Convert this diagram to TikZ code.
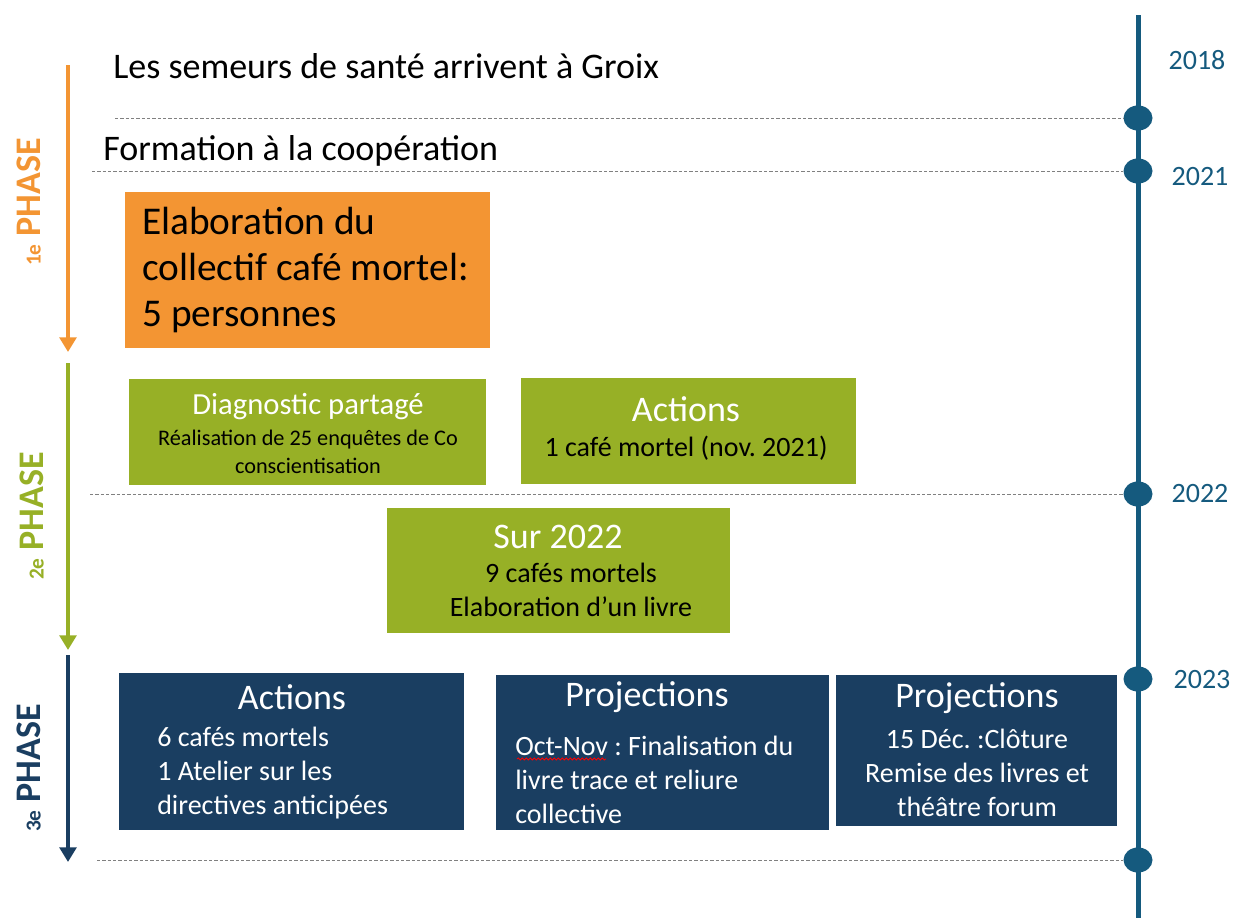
\documentclass[tikz,border=0pt]{standalone}
\usepackage{fontspec}
\setmainfont{Carlito}
\frenchspacing
\usetikzlibrary{arrows.meta,shapes.geometric,decorations.pathmorphing}
\definecolor{phaseorange}{HTML}{F39533}
\definecolor{phasegreen}{HTML}{97B026}
\definecolor{phasenavy}{HTML}{1A3E61}
\definecolor{timeblue}{HTML}{155A7E}
\tikzset{
    stagebox/.style={rectangle, inner sep=0pt, anchor=north west},
    boxtitle/.style={inner sep=0pt, text=white, font=\fontsize{27}{32}\selectfont},
    boxbody/.style={inner sep=0pt, align=center, font=\fontsize{21}{25.5}\selectfont},
    yearlabel/.style={inner sep=0pt, text=timeblue, font=\fontsize{21}{25}\selectfont},
    yeardot/.style={ellipse, fill=timeblue, inner sep=0pt, minimum width=21.75pt, minimum height=18.75pt},
    yearsep/.style={gray, dashed, line width=0.6pt, dash pattern=on 2.5pt off 1.5pt},
    phasearrow/.style={line width=3pt, -{Triangle[width=12.5pt,length=11pt]}},
    phaselabel/.style={inner sep=0pt, rotate=90, font=\fontsize{27}{30}\bfseries\selectfont}
}
\begin{document}
\begin{tikzpicture}[x=0.75pt, y=-0.75pt]
    \useasboundingbox (0,0) rectangle (1233,918);
    % draw the timeline on the right
    \coordinate (ttop) at (1138,15);
    \coordinate (tbot) at (1138,918);
    \draw[timeblue, line width=3.75pt] (ttop) -- (tbot);
    \foreach \name/\y in {d1/118, d2/171, d3/494, d4/679, d5/860}
        \node[yeardot] (\name) at (1138,\y) {};
    % years
    \node[yearlabel] (y2018) at (1197,60) {2018};
    \node[yearlabel] (y2021) at (1200,177) {2021};
    \node[yearlabel] (y2022) at (1200,494) {2022};
    \node[yearlabel] (y2023) at (1202,680) {2023};
    % dashed separators
    \coordinate (s1) at (115,118);
    \coordinate (s2) at (92,171);
    \coordinate (s3) at (90,494);
    \coordinate (s5) at (97,860);
    \draw[yearsep] (s1) -- (d1);
    \draw[yearsep] (s2) -- (d2);
    \draw[yearsep] (s3) -- (d3);
    \draw[yearsep] (s5) -- (d5);
    % first lines of text
    \node[inner sep=0pt, anchor=west, font=\fontsize{27}{32}\selectfont] (arrive) at (113,66) {Les semeurs de santé arrivent à Groix};
    \node[inner sep=0pt, anchor=west, font=\fontsize{27}{32}\selectfont] (formation) at (103,151) {Formation à la coopération};
    % 1e phase
    \node[stagebox, fill=phaseorange, minimum width=365*0.75pt, minimum height=156*0.75pt] (elab) at (125,192) {};
    \node[inner sep=0pt, anchor=west, align=left, font=\fontsize{29.5}{34.5}\selectfont] (elabtext) at (142,270) {Elaboration du\\collectif café mortel:\\5 personnes};
    % 2e phase
    \node[stagebox, fill=phasegreen, minimum width=357*0.75pt, minimum height=106*0.75pt] (diag) at (129,379) {};
    \node[boxtitle, font=\fontsize{23}{27}\selectfont] (diagtitle) at (308,407) {Diagnostic partagé};
    \node[boxbody, font=\fontsize{16.7}{21}\selectfont] (diagtext) at (308,452) {Réalisation de 25 enquêtes de Co\\conscientisation};
    \node[stagebox, fill=phasegreen, minimum width=335*0.75pt, minimum height=106*0.75pt] (act1) at (521,378) {};
    \node[boxtitle] (act1title) at (686,409) {Actions};
    \node[boxbody] (act1text) at (686,448) {1 café mortel (nov. 2021)};
    \node[stagebox, fill=phasegreen, minimum width=343*0.75pt, minimum height=125*0.75pt] (sur) at (387,508) {};
    \node[boxtitle] (surtitle) at (558,537) {Sur 2022};
    \node[boxbody] (surtext) at (571,590) {9 cafés mortels\\Elaboration d’un livre};
    % 3e phase
    \node[stagebox, fill=phasenavy, minimum width=345*0.75pt, minimum height=157*0.75pt] (act2) at (119,673) {};
    \node[boxtitle] (act2title) at (292,697) {Actions};
    \node[boxbody, text=white, anchor=west, align=left] (act2text) at (157,773) {6 cafés mortels\\1 Atelier sur les\\directives anticipées};
    \node[stagebox, fill=phasenavy, minimum width=333*0.75pt, minimum height=155*0.75pt] (proj1) at (496,675) {};
    \node[boxtitle] (proj1title) at (647,697) {Projections};
    \node[boxbody, text=white, anchor=west, align=left] (proj1text) at (515,780) {Oct-Nov : Finalisation du\\livre trace et reliure\\collective};
    \draw[red, line width=0.6pt, decorate, decoration={snake, amplitude=0.8pt, segment length=3pt}] (517,759) -- (606,759);
    \node[stagebox, fill=phasenavy, minimum width=281*0.75pt, minimum height=151*0.75pt] (proj2) at (836,675) {};
    \node[boxtitle] (proj2title) at (977,698) {Projections};
    \node[boxbody, text=white] (proj2text) at (977,773) {15 Déc. :Clôture\\Remise des livres et\\théâtre forum};
    % phase arrows
    \coordinate (p1a) at (68,65);
    \coordinate (p1b) at (68,352);
    \coordinate (p2a) at (68,363);
    \coordinate (p2b) at (68,650);
    \coordinate (p3a) at (68,655);
    \coordinate (p3b) at (68,862);
    \draw[phasearrow, phaseorange] (p1a) -- (p1b);
    \draw[phasearrow, phasegreen] (p2a) -- (p2b);
    \draw[phasearrow, phasenavy] (p3a) -- (p3b);
    \node[phaselabel, text=phaseorange] (ph1) at (29,202) {{\fontsize{16}{16}\selectfont 1e} PHASE};
    \node[phaselabel, text=phasegreen] (ph2) at (32,516) {{\fontsize{16}{16}\selectfont 2e} PHASE};
    \node[phaselabel, text=phasenavy] (ph3) at (29,768) {{\fontsize{16}{16}\selectfont 3e} PHASE};
\end{tikzpicture}
\end{document}
